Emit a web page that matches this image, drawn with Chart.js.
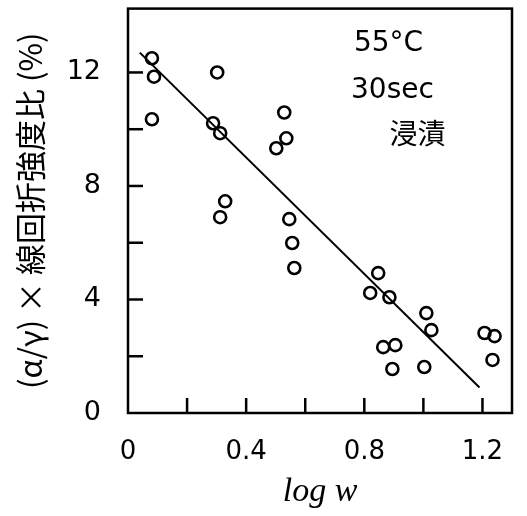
<!DOCTYPE html>
<html>
<head>
<meta charset="utf-8">
<script src="https://cdn.jsdelivr.net/npm/chart.js@4"></script>
<style>
  html, body { margin: 0; padding: 0; background: #fff; }
  #wrap { width: 527px; height: 516px; }
</style>
</head>
<body>
<div id="wrap"><canvas id="chart"></canvas></div>
<script>
// measured points: log w vs (α/γ) x-ray intensity ratio
var logW = [0.081, 0.088, 0.081, 0.302, 0.288, 0.312, 0.329, 0.312, 0.529, 0.536, 0.502,
            0.546, 0.556, 0.563, 0.847, 0.820, 0.885, 1.010, 1.027, 0.864, 0.905, 0.895,
            1.003, 1.207, 1.241, 1.234];
var ratio = [12.5, 11.85, 10.35, 12.0, 10.21, 9.86, 7.46, 6.9, 10.59, 9.68, 9.33,
             6.83, 5.99, 5.11, 4.93, 4.23, 4.08, 3.52, 2.92, 2.32, 2.39, 1.55,
             1.62, 2.82, 2.71, 1.87];
// fitted line end points
var fitX = [0.04, 1.19];
var fitY = [12.7, 0.9];
var xTicks = [0, 0.2, 0.4, 0.6, 0.8, 1.0, 1.2];
var yTicks = [0, 2, 4, 6, 8, 10, 12];
var xTickLabels = ['0', '', '0.4', '', '0.8', '', '1.2'];
var yTickLabels = ['0', '', '4', '', '8', '', '12'];
var notes = ['55°C', '30sec', '浸漬'];

document.addEventListener("DOMContentLoaded", function () {
    main();
});

function noPad(s) {
    s.paddingTop = 0; s.paddingBottom = 0; s.paddingLeft = 0; s.paddingRight = 0;
}

function main() {
    var points = logW.map(function (x, i) { return { x: x, y: ratio[i] }; });
    var fit = fitX.map(function (x, i) { return { x: x, y: fitY[i] }; });

    // inward ticks, frame and the notes in the upper right
    var decor = {
        id: 'decor',
        afterDraw: function (chart) {
            var c = chart.ctx, a = chart.chartArea;
            var xs = chart.scales.x, ys = chart.scales.y;
            c.save();
            c.strokeStyle = '#000';
            c.lineWidth = 2.5;
            c.strokeRect(a.left, a.top, a.right - a.left, a.bottom - a.top);
            ys.ticks.forEach(function (t) {
                if (t.value === 0) return;
                var py = ys.getPixelForValue(t.value);
                c.beginPath(); c.moveTo(a.left, py); c.lineTo(a.left + 15, py); c.stroke();
            });
            xs.ticks.forEach(function (t) {
                if (t.value === 0) return;
                var px = xs.getPixelForValue(t.value);
                c.beginPath(); c.moveTo(px, a.bottom); c.lineTo(px, a.bottom - 15); c.stroke();
            });
            c.fillStyle = '#000';
            c.textAlign = 'left';
            c.textBaseline = 'middle';
            c.font = '28px "DejaVu Sans"';
            c.fillText(notes[0], xs.getPixelForValue(0.765), ys.getPixelForValue(13.0));
            c.fillText(notes[1], xs.getPixelForValue(0.755), ys.getPixelForValue(11.37));
            c.font = '28px "Noto Sans CJK JP"';
            c.fillText(notes[2], xs.getPixelForValue(0.885), ys.getPixelForValue(9.86));
            c.restore();
        }
    };

    var ctx = document.getElementById('chart');
    new Chart(ctx, {
        type: 'scatter',
        data: {
            datasets: [{
                data: points,
                pointRadius: 6,
                pointBorderWidth: 2.6,
                pointBorderColor: '#000',
                pointBackgroundColor: 'rgba(255,255,255,0)',
                pointHoverRadius: 6
            }, {
                type: 'line',
                data: fit,
                borderColor: '#000',
                borderWidth: 2,
                pointRadius: 0,
                fill: false
            }]
        },
        options: {
            responsive: true,
            maintainAspectRatio: false,
            animation: false,
            layout: { padding: { top: 8, right: 15, left: 0, bottom: 0 } },
            plugins: { legend: { display: false }, tooltip: { enabled: false } },
            scales: {
                x: {
                    type: 'linear',
                    min: 0,
                    max: 1.3,
                    afterBuildTicks: function (s) {
                        s.ticks = xTicks.map(function (v) { return { value: v }; });
                    },
                    afterFit: function (s) { s.height = 103; noPad(s); },
                    grid: { drawOnChartArea: false, drawTicks: false },
                    border: { display: false },
                    ticks: {
                        padding: 24,
                        color: '#000',
                        font: { family: 'DejaVu Sans', size: 26 },
                        maxRotation: 0,
                        autoSkip: false,
                        callback: function (v, i) { return xTickLabels[i]; }
                    },
                    title: {
                        display: true,
                        text: 'log w',
                        color: '#000',
                        font: { family: 'Liberation Serif', size: 34, style: 'italic' },
                        padding: { top: 0, bottom: 4 }
                    }
                },
                y: {
                    min: 0,
                    max: 14.25,
                    afterBuildTicks: function (s) {
                        s.ticks = yTicks.map(function (v) { return { value: v }; });
                    },
                    afterFit: function (s) { s.width = 128; noPad(s); },
                    grid: { drawOnChartArea: false, drawTicks: false },
                    border: { display: false },
                    ticks: {
                        padding: 27,
                        color: '#000',
                        font: { family: 'DejaVu Sans', size: 27 },
                        autoSkip: false,
                        callback: function (v, i) { return yTickLabels[i]; }
                    },
                    title: {
                        display: true,
                        text: '(α/γ) × 線回折強度比 (%)',
                        color: '#000',
                        font: { family: 'Noto Sans CJK JP', size: 31 },
                        padding: { top: 12, bottom: 0 }
                    }
                }
            }
        },
        plugins: [decor]
    });
}
</script>
</body>
</html>
